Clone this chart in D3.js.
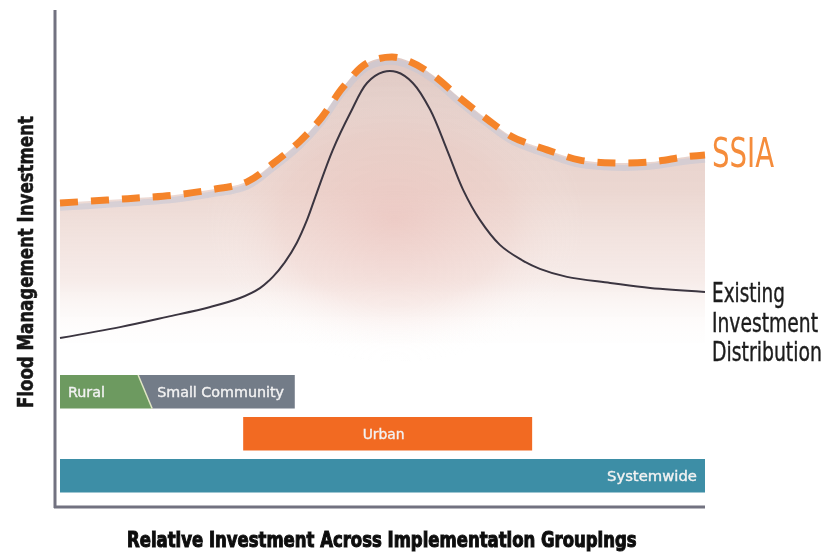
<!DOCTYPE html>
<html>
<head>
<meta charset="utf-8">
<script src="https://cdn.jsdelivr.net/npm/d3@7"></script>
<style>
  html, body { margin: 0; padding: 0; background: #fff; }
  svg { display: block; }
  text { font-family: "Liberation Sans Narrow", "DejaVu Sans Condensed", sans-serif; }
</style>
</head>
<body>
<svg id="chart" width="830" height="557"></svg>
<script>
// Relative position along the implementation groupings (0–100)
const ssiaX = [0, 7.3, 12.4, 17.8, 23.3, 29, 33, 37.2, 40.6, 43.9, 47.6, 51.5, 54.3, 57.8, 62, 66.2, 70.2, 75.5, 80.6, 86, 91.5, 96.9, 100];
// SSIA investment level (relative units)
const ssiaY = [52.2, 53.1, 53.8, 54.7, 56.3, 58.8, 64.5, 71.5, 79, 88.4, 95.9, 97.8, 96.3, 92.2, 85, 78.4, 72.8, 68.8, 65.6, 64.7, 65, 66.6, 67.2];

// Existing investment distribution
const existX = [0, 9.3, 16.6, 23.3, 27.9, 31, 33, 34.9, 36.7, 38.3, 39.8, 42.3, 45, 47.6, 50.1, 52.2, 54.7, 57.4, 60, 62.5, 65.1, 68.2, 71.3, 74.4, 78.6, 85.3, 91.5, 100];
const existY = [10, 13.4, 16.6, 19.7, 22.5, 25.6, 29.1, 33.8, 39.7, 46.9, 55.3, 68.8, 80.3, 89.7, 93.1, 93.1, 89.7, 81.3, 68.8, 56.3, 46.9, 39.1, 34.7, 31.6, 29.1, 27.2, 25.6, 24.4];

// Implementation groupings shown as horizontal spans
const groupNames = ["Rural", "Small Community", "Urban", "Systemwide"];
const groupRows  = ["local", "local", "urban", "system"];
const groupStart = [0, 13.2, 28.4, 0];
const groupEnd   = [13.2, 36.4, 73.2, 100];
const groupColor = ["#6d9a60", "#737b88", "#f26a22", "#3d8ea6"];
const rowOrder   = ["local", "urban", "system"];

const labels = {
  ssia: "SSIA",
  existing: ["Existing", "Investment", "Distribution"],
  yTitle: "Flood Management Investment",
  xTitle: "Relative Investment Across Implementation Groupings"
};

const svg = d3.select("#chart");

const x = d3.scaleLinear().domain([0, 100]).range([60, 705]);
const y = d3.scaleLinear().domain([0, 100]).range([370, 50]);
const row = d3.scaleBand().domain(rowOrder).range([375, 492.5]).paddingInner(0.2);

const defs = svg.append("defs");

// vertical fade of the SSIA envelope
const vg = defs.append("linearGradient").attr("id", "fade")
  .attr("gradientUnits", "userSpaceOnUse")
  .attr("x1", 0).attr("x2", 0).attr("y1", 55).attr("y2", 355);
vg.append("stop").attr("offset", 0).attr("stop-color", "#dcc3bd").attr("stop-opacity", 0.9);
vg.append("stop").attr("offset", 0.45).attr("stop-color", "#e8d0c9").attr("stop-opacity", 0.85);
vg.append("stop").attr("offset", 0.75).attr("stop-color", "#f1dfda").attr("stop-opacity", 0.6);
vg.append("stop").attr("offset", 1).attr("stop-color", "#ffffff").attr("stop-opacity", 0);

// pink glow under the peak
const rg = defs.append("radialGradient").attr("id", "glow")
  .attr("gradientUnits", "userSpaceOnUse")
  .attr("cx", 395).attr("cy", 220).attr("r", 190)
  .attr("gradientTransform", "translate(395,220) scale(1,0.75) translate(-395,-220)");
rg.append("stop").attr("offset", 0).attr("stop-color", "#eab4ae").attr("stop-opacity", 0.45);
rg.append("stop").attr("offset", 0.6).attr("stop-color", "#edc2ba").attr("stop-opacity", 0.22);
rg.append("stop").attr("offset", 1).attr("stop-color", "#ffffff").attr("stop-opacity", 0);

defs.append("filter").attr("id", "soft")
  .append("feGaussianBlur").attr("stdDeviation", 0.6);

const ssia = ssiaX.map((v, i) => [v, ssiaY[i]]);
const exist = existX.map((v, i) => [v, existY[i]]);

const area = d3.area()
  .x(d => x(d[0])).y0(y(-3)).y1(d => y(d[1]))
  .curve(d3.curveCatmullRom);

const g = svg.append("g").attr("filter", "url(#soft)");

g.append("path").datum(ssia).attr("d", area).attr("fill", "url(#fade)");
g.append("path").datum(ssia).attr("d", area).attr("fill", "url(#glow)");

const line = d3.line().x(d => x(d[0])).y(d => y(d[1])).curve(d3.curveCatmullRom);

// grey-blue halo beneath the SSIA dashes
g.append("path").datum(ssia.map(d => [d[0], d[1] - 1.5]))
  .attr("d", line).attr("fill", "none")
  .attr("stroke", "#c4c6d6").attr("stroke-width", 6).attr("stroke-opacity", 0.55);

// existing distribution
g.append("path").datum(exist).attr("d", line).attr("fill", "none")
  .attr("stroke", "#3b3540").attr("stroke-width", 2);

// SSIA dashed envelope
g.append("path").datum(ssia).attr("d", line).attr("fill", "none")
  .attr("stroke", "#f5842c").attr("stroke-width", 7)
  .attr("stroke-dasharray", "18 13");

// grouping spans
const slant = 7;
groupNames.forEach((name, i) => {
  const top = row(groupRows[i]);
  const bot = top + row.bandwidth();
  const x0 = x(groupStart[i]), x1 = x(groupEnd[i]);
  let pts;
  if (name === "Rural") {
    pts = [[x0, top], [x1 - slant, top], [x1 + slant, bot], [x0, bot]];
  } else if (name === "Small Community") {
    pts = [[x0 - slant, top], [x1, top], [x1, bot], [x0 + slant, bot]];
  } else {
    pts = [[x0, top], [x1, top], [x1, bot], [x0, bot]];
  }
  g.append("path").attr("d", "M" + pts.join("L") + "Z").attr("fill", groupColor[i]);
});

// divider between Rural and Small Community
{
  const top = row("local"), bot = top + row.bandwidth();
  const xm = x(groupEnd[0]);
  g.append("line").attr("x1", xm - slant).attr("y1", top).attr("x2", xm + slant).attr("y2", bot)
    .attr("stroke", "#dfe6c4").attr("stroke-width", 1.5);
}

// text squeezed horizontally to a given width (condensed look)
function fitText(parent, txt, xp, yp, width, anchor, attrs) {
  const holder = parent.append("g");
  const t = holder.append("text").attr("x", 0).attr("y", 0).text(txt);
  Object.entries(attrs).forEach(([k, v]) => t.attr(k, v));
  const natural = t.node().getComputedTextLength();
  const sx = width / natural;
  const shift = anchor === "middle" ? -width / 2 : anchor === "end" ? -width : 0;
  holder.attr("transform", `translate(${xp + shift},${yp}) scale(${sx},1)`);
  return holder;
}

// span labels
const labAttrs = { fill: "#f2f2f2", "font-size": 14, stroke: "#f2f2f2", "stroke-width": 0.35 };
const lr = row("local") + row.bandwidth() / 2 + 5;
fitText(g, groupNames[0], x(groupStart[0]) + 8, lr, 37, "start", labAttrs);
fitText(g, groupNames[1], x(groupStart[1]) + 12, lr, 127, "start", labAttrs);
fitText(g, groupNames[2], (x(groupStart[2]) + x(groupEnd[2])) / 2 - 4, row("urban") + row.bandwidth() / 2 + 5, 42, "middle", labAttrs);
fitText(g, groupNames[3], x(groupEnd[3]) - 8, row("system") + row.bandwidth() / 2 + 5, 90, "end", labAttrs);

// axes (plain lines, no ticks)
const axisColor = "#727280";
g.append("line").attr("x1", 55).attr("x2", 55).attr("y1", 10).attr("y2", 508)
  .attr("stroke", axisColor).attr("stroke-width", 3);
g.append("line").attr("x1", 54).attr("x2", 705).attr("y1", 507).attr("y2", 507)
  .attr("stroke", axisColor).attr("stroke-width", 3);

// series labels
fitText(g, labels.ssia, 712, 167, 62, "start", { fill: "#f58c3b", "font-size": 40 });

const exLens = [73, 106, 110];
labels.existing.forEach((t, i) => {
  fitText(g, t, 712, 302 + i * 29.5, exLens[i], "start",
    { fill: "#1c1c1c", "font-size": 27, stroke: "#1c1c1c", "stroke-width": 0.4 });
});

// axis titles
const yt = fitText(g, labels.yTitle, 0, 0, 292, "middle",
  { fill: "#151515", "font-size": 21, "font-weight": "bold", stroke: "#151515", "stroke-width": 0.5 });
yt.attr("transform", `translate(33,262) rotate(-90) ` + yt.attr("transform"));

fitText(g, labels.xTitle, 382, 547, 510, "middle",
  { fill: "#111", "font-size": 21, "font-weight": "bold", stroke: "#111", "stroke-width": 1 });
</script>
</body>
</html>
